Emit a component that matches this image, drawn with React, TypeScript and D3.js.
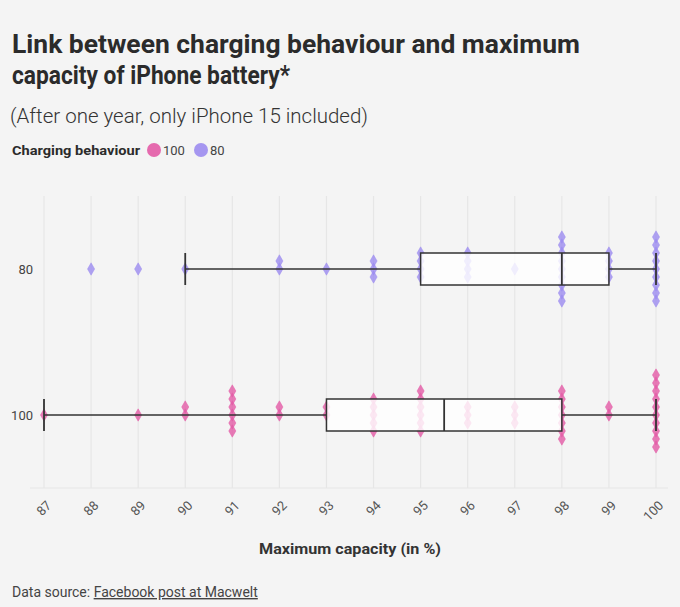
import React, { useEffect } from "react";
import * as d3 from "d3";

const W = 680;
const H = 607;

const categories = ["80", "100"];
const seriesColors = ["#9c8cf0", "#e35ba6"];
const legendColors = ["#e35ba6", "#9c8cf0"];
const legendLabels = ["100", "80"];
const xTicks = [87, 88, 89, 90, 91, 92, 93, 94, 95, 96, 97, 98, 99, 100];

const capacity80 = [
  88, 89, 90, 92, 92, 93, 94, 94, 94, 95, 95, 95, 95, 96, 96, 96, 96, 97,
  98, 98, 98, 98, 98, 98, 98, 98, 98, 99, 99, 99, 99,
  100, 100, 100, 100, 100, 100, 100, 100, 100,
];
const capacity100 = [
  87, 89, 90, 90, 91, 91, 91, 91, 91, 91, 92, 92, 93, 93,
  94, 94, 94, 94, 94, 95, 95, 95, 95, 95, 95, 96, 96, 96, 97, 97, 97,
  98, 98, 98, 98, 98, 98, 98, 99, 99,
  100, 100, 100, 100, 100, 100, 100, 100, 100, 100,
];
const seriesValues = [capacity80, capacity100];

const FONT = "Roboto, 'Noto Sans', sans-serif";

export default function App() {
  useEffect(() => {
    document.body.style.margin = "0";
    document.body.style.background = "#f4f4f4";
  }, []);

  const x = d3.scaleLinear().domain([87, 100]).range([44, 656]);
  const y = d3.scalePoint<string>().domain(categories).range([196, 488]).padding(0.5);
  const diamond = d3.symbol().type(d3.symbolDiamond).size(44);
  const step = 8;
  const boxH = 32;

  const rows = categories.map((cat, ci) => {
    const vals = seriesValues[ci].slice().sort(d3.ascending);
    const q1 = d3.quantile(vals, 0.25)!;
    const med = d3.quantile(vals, 0.5)!;
    const q3 = d3.quantile(vals, 0.75)!;
    const iqr = q3 - q1;
    const lo = d3.min(vals.filter((v) => v > q1 - 1.5 * iqr))!;
    const hi = d3.max(vals.filter((v) => v < q3 + 1.5 * iqr))!;
    const groups = d3.group(vals, (v) => v);
    const pts: { v: number; off: number }[] = [];
    groups.forEach((arr, v) => {
      arr.forEach((_, i) => {
        const k = Math.ceil(i / 2);
        const sign = i % 2 === 1 ? -1 : 1;
        pts.push({ v, off: sign * k * step });
      });
    });
    return { cat, ci, q1, med, q3, lo, hi, pts, cy: y(cat)! };
  });

  return (
    <svg width={W} height={H} style={{ display: "block", background: "#f4f4f4" }}>
      <rect x={0} y={0} width={W} height={H} fill="#f4f4f4" />
      <text x={12} y={53} fontFamily={FONT} fontWeight={700} fontSize={25} fill="#2b2b2b"
        textLength={568} lengthAdjust="spacingAndGlyphs">
        Link between charging behaviour and maximum
      </text>
      <text x={12} y={84} fontFamily={FONT} fontWeight={700} fontSize={25} fill="#2b2b2b"
        textLength={278} lengthAdjust="spacingAndGlyphs">
        capacity of iPhone battery*
      </text>
      <text x={10} y={123} fontFamily={FONT} fontWeight={300} fontSize={20} fill="#333"
        textLength={358} lengthAdjust="spacingAndGlyphs">
        (After one year, only iPhone 15 included)
      </text>
      <text x={12} y={155} fontFamily={FONT} fontWeight={700} fontSize={13} fill="#2b2b2b"
        textLength={128} lengthAdjust="spacingAndGlyphs">
        Charging behaviour
      </text>
      {legendLabels.map((l, i) => {
        const cx = i === 0 ? 154 : 201;
        return (
          <g key={l}>
            <circle cx={cx} cy={150} r={7} fill={legendColors[i]} opacity={0.9} />
            <text x={cx + 9} y={155} fontFamily={FONT} fontSize={13} fill="#444">{l}</text>
          </g>
        );
      })}

      {/* grid */}
      {xTicks.map((t) => (
        <line key={t} x1={x(t)} x2={x(t)} y1={196} y2={488} stroke="#e6e6e6" strokeWidth={1.2} />
      ))}
      <line x1={30} x2={668} y1={488} y2={488} stroke="#e6e6e6" strokeWidth={1} />

      {/* y labels */}
      {categories.map((c) => (
        <text key={c} x={33} y={y(c)! + 4.5} textAnchor="end" fontFamily={FONT} fontSize={13} fill="#444">{c}</text>
      ))}

      {/* x tick labels */}
      {xTicks.map((t) => (
        <text key={t} transform={`translate(${x(t) + 5},${503}) rotate(-45)`} textAnchor="end"
          dy="0.35em" fontFamily={FONT} fontSize={13} fill="#555">{t}</text>
      ))}

      {rows.map((r) => (
        <g key={r.cat}>
          {r.pts.map((p, i) => (
            <path key={i} d={diamond()!} transform={`translate(${x(p.v)},${r.cy + p.off})`}
              fill={seriesColors[r.ci]} fillOpacity={0.8} stroke={seriesColors[r.ci]} strokeOpacity={0.6} strokeWidth={0.8} />
          ))}
          <line x1={x(r.lo)} x2={x(r.q1)} y1={r.cy} y2={r.cy} stroke="#333" strokeWidth={1.5} />
          <line x1={x(r.q3)} x2={x(r.hi)} y1={r.cy} y2={r.cy} stroke="#333" strokeWidth={1.5} />
          <line x1={x(r.lo)} x2={x(r.lo)} y1={r.cy - boxH / 2} y2={r.cy + boxH / 2} stroke="#333" strokeWidth={1.8} />
          <line x1={x(r.hi)} x2={x(r.hi)} y1={r.cy - boxH / 2} y2={r.cy + boxH / 2} stroke="#333" strokeWidth={1.8} />
          <rect x={x(r.q1)} y={r.cy - boxH / 2} width={x(r.q3) - x(r.q1)} height={boxH}
            fill="#ffffff" fillOpacity={0.82} stroke="#333" strokeWidth={1.5} />
          <line x1={x(r.med)} x2={x(r.med)} y1={r.cy - boxH / 2} y2={r.cy + boxH / 2} stroke="#333" strokeWidth={1.8} />
        </g>
      ))}

      <text x={350} y={554} textAnchor="middle" fontFamily={FONT} fontWeight={700} fontSize={14} fill="#333"
        textLength={182} lengthAdjust="spacingAndGlyphs">
        Maximum capacity (in %)
      </text>
      <text x={12} y={597} fontFamily={FONT} fontSize={14} fill="#444">
        <tspan>Data source: </tspan>
        <tspan textDecoration="underline" style={{ textDecoration: "underline" }}>Facebook post at Macwelt</tspan>
      </text>
    </svg>
  );
}
